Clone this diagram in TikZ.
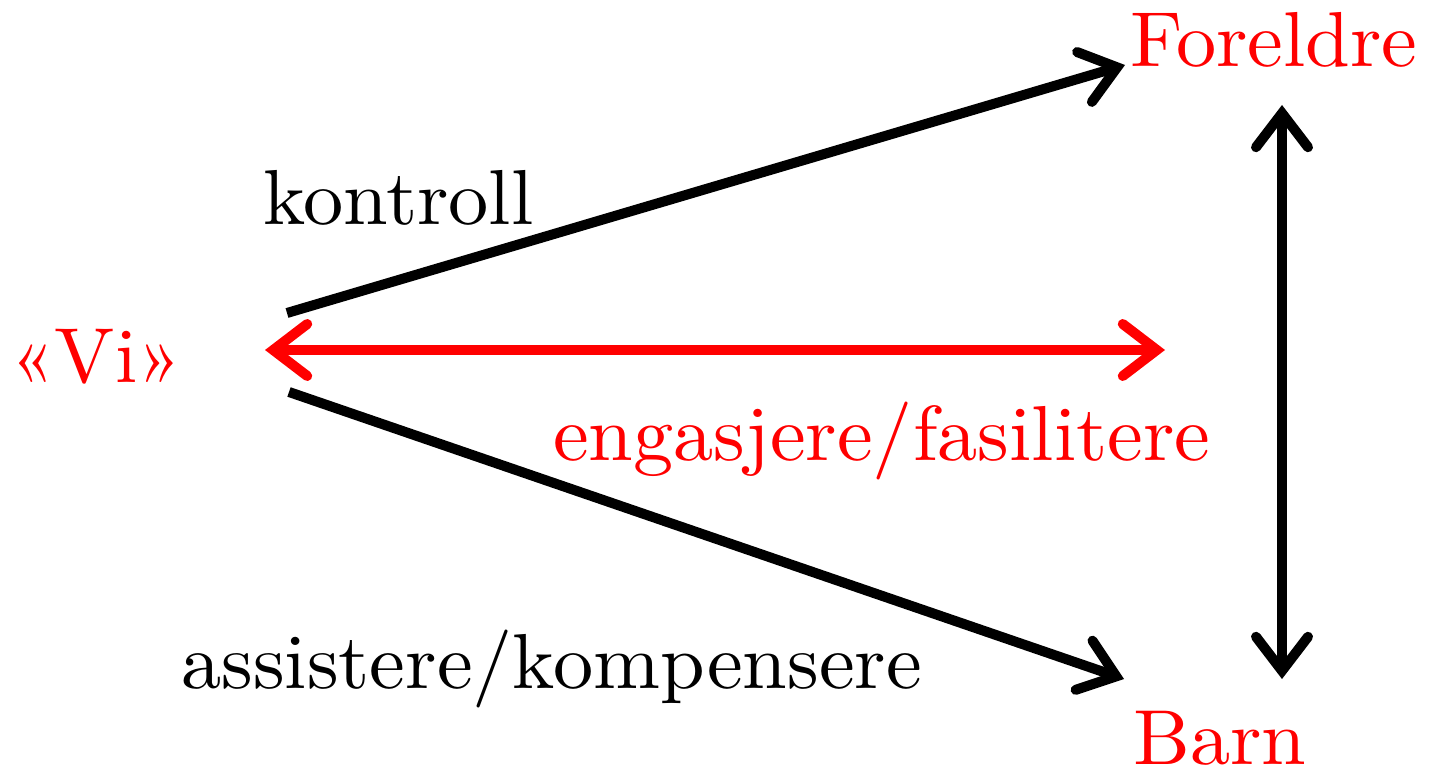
\documentclass[tikz,border=0pt]{standalone}
\usepackage{fontspec}
\setmainfont{lmroman10-regular.otf}[FakeStretch=1.03]
\usetikzlibrary{arrows.meta}

\tikzset{
  lbl/.style={inner sep=0pt, anchor=base west, font=\fontsize{78}{86}\selectfont},
  red lbl/.style={lbl, text=red},
  barb/.tip={Straight Barb[length=34pt,width=52pt,line cap=round,line join=miter]},
  pil/.style={line width=10pt, -barb},
  dobbelpil/.style={line width=10pt, barb-barb},
}

\begin{document}
\begin{tikzpicture}[x=1pt,y=-1pt]
\useasboundingbox (0,0) rectangle (1432,770);

\node[red lbl] (vi) at (10,382) {«Vi»};
\node[red lbl] (foreldre) at (1130,67) {Foreldre};
\node[red lbl] (barn) at (1133,764) {Barn};

\node[lbl] (kontroll) at (263,225) {kontroll};
\node[red lbl] (engasjere) at (553,460) {engasjere/fasilitere};
\node[lbl] (assistere) at (181,688) {assistere/kompensere};

\coordinate (vi upper) at (287,313);
\coordinate (vi lower) at (289,392);
\coordinate (vi mid) at (265,350);
\coordinate (mid end) at (1165,350);
\coordinate (foreldre tip) at (1125,65);
\coordinate (barn tip) at (1124,679);
\coordinate (par top) at (1282,105);
\coordinate (par bottom) at (1282,679);

\draw[pil] (vi upper) -- (foreldre tip);
\draw[pil] (vi lower) -- (barn tip);
\draw[dobbelpil,red] (vi mid) -- (mid end);
\draw[dobbelpil] (par top) -- (par bottom);

\end{tikzpicture}
\end{document}
